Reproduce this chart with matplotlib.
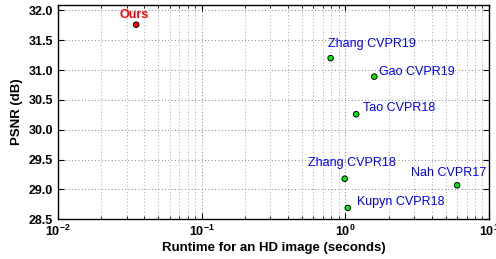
import matplotlib
matplotlib.use("Agg")
import matplotlib.pyplot as plt
from matplotlib.ticker import LogLocator, NullFormatter, MultipleLocator

methods = ["Ours", "Zhang CVPR19", "Gao CVPR19", "Tao CVPR18", "Zhang CVPR18", "Kupyn CVPR18", "Nah CVPR17"]
runtime = [0.035, 0.79, 1.59, 1.19, 0.99, 1.04, 6.0]
psnr = [31.76, 31.20, 30.89, 30.26, 29.18, 28.69, 29.07]

plt.rcParams['font.family'] = ['Liberation Sans', 'DejaVu Sans']

fig = plt.figure(figsize=(4.96, 2.59), dpi=100)
ax = fig.add_axes([58/496, 1-219.3/259, (489-58)/496, (219.3-4.7)/259])

ax.set_xscale('log')
ax.set_xlim(0.01, 10)
ax.set_ylim(28.5, 32.095)
ax.yaxis.set_major_locator(MultipleLocator(0.5))
ax.xaxis.set_major_locator(LogLocator(base=10, numticks=10))
ax.xaxis.set_minor_locator(LogLocator(base=10, subs=range(2, 10), numticks=20))
ax.xaxis.set_minor_formatter(NullFormatter())

ax.grid(True, which='major', axis='both', linestyle=(0, (1, 3)), color='#555555', linewidth=0.6)
ax.grid(True, which='minor', axis='x', linestyle=(0, (1, 3)), color='#888888', linewidth=0.6)

ax.tick_params(which='both', direction='in', top=True, right=True)
ax.tick_params(which='major', length=4, labelsize=9, width=0.8)
ax.tick_params(which='minor', length=2, width=0.6)
for lab in ax.get_xticklabels() + ax.get_yticklabels():
    lab.set_fontweight('bold')
for s in ax.spines.values():
    s.set_linewidth(1.0)

colors = ['red'] + ['#00ee00'] * (len(methods) - 1)
ax.scatter(runtime, psnr, s=16, c=colors, edgecolors='black', linewidths=0.7, zorder=5)

# label offsets in pixels (dx, dy up), alignment
offsets = {
    "Ours": (-2, 10, 'center', 'bold', 'red'),
    "Zhang CVPR19": (-3, 14, 'left', 'normal', 'blue'),
    "Gao CVPR19": (5, 5, 'left', 'normal', 'blue'),
    "Tao CVPR18": (7, 6, 'left', 'normal', 'blue'),
    "Zhang CVPR18": (-37, 16, 'left', 'normal', 'blue'),
    "Kupyn CVPR18": (9, 6, 'left', 'normal', 'blue'),
    "Nah CVPR17": (-46, 12, 'left', 'normal', 'blue'),
}
for m, x, y in zip(methods, runtime, psnr):
    dx, dy, ha, fw, col = offsets[m]
    ax.annotate(m, (x, y), xytext=(dx * 0.72, dy * 0.72), textcoords='offset points',
                ha=ha, va='center', fontsize=9, fontweight=fw, color=col)

ax.set_xlabel('Runtime for an HD image (seconds)', fontsize=9.5, fontweight='bold', labelpad=2)
ax.set_ylabel('PSNR (dB)', fontsize=9.5, fontweight='bold', labelpad=4)

fig.savefig('out.png', dpi=100)
